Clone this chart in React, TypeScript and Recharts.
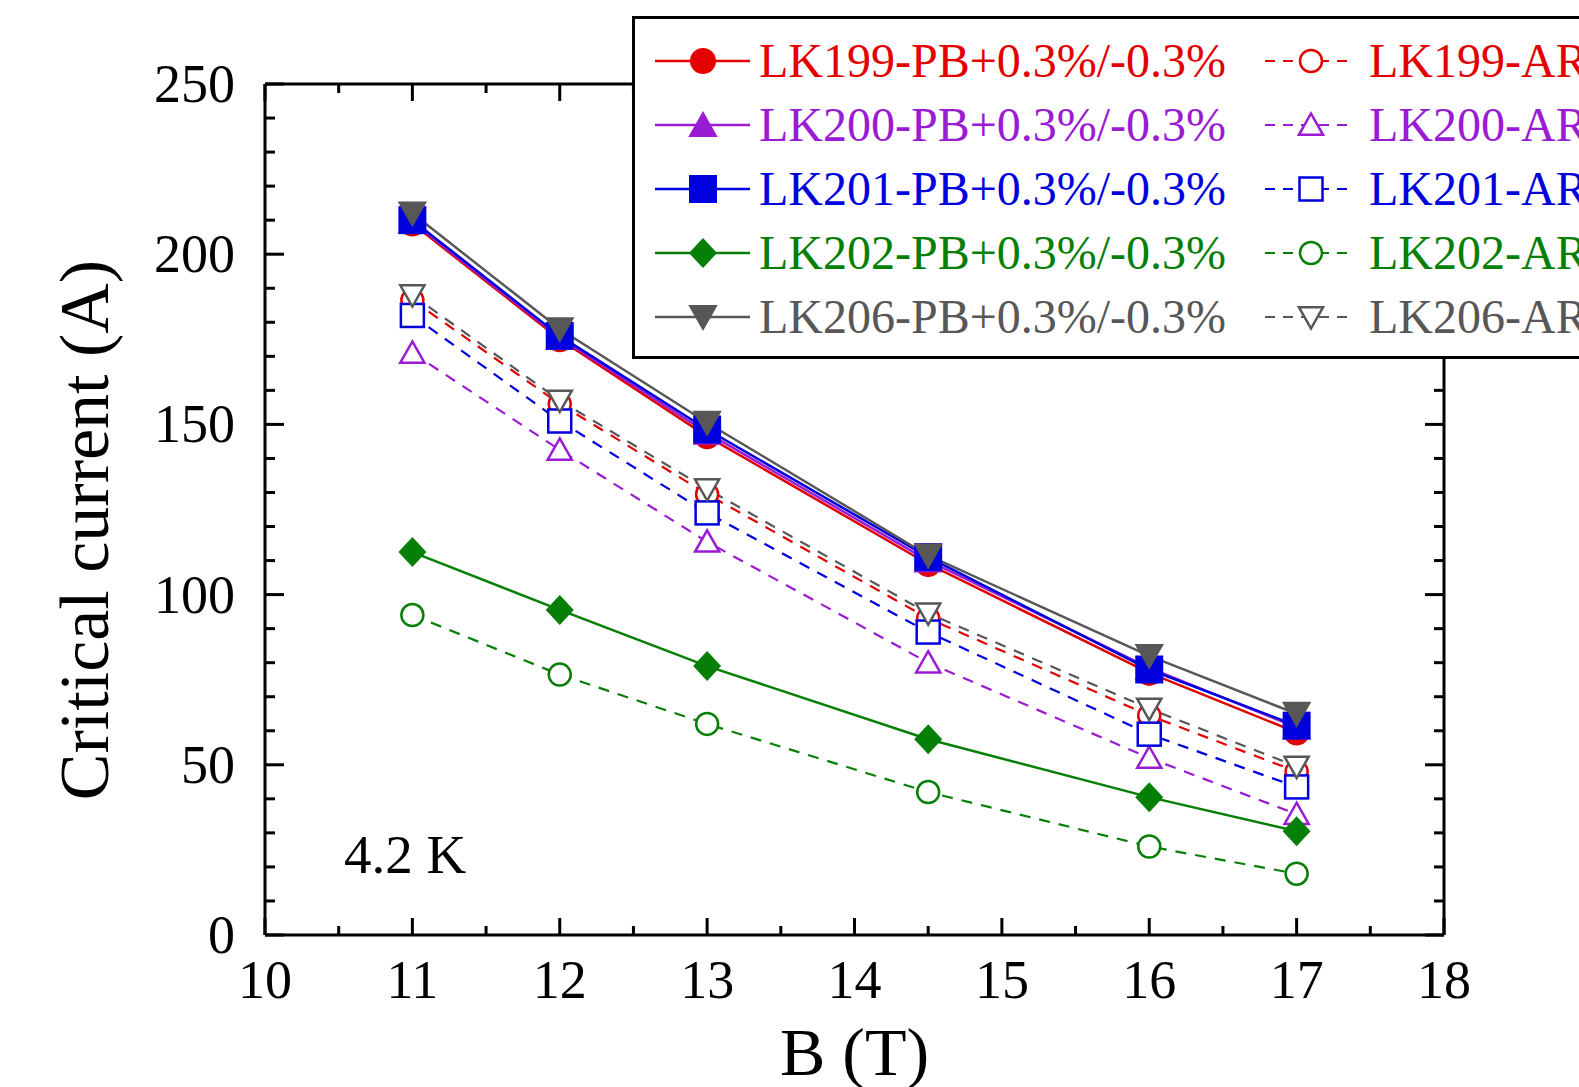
import { LineChart, Line, XAxis, YAxis, ReferenceLine, Legend } from "recharts";

// magnetic field (T)
const fieldB = [11, 12, 13, 14.5, 16, 17];

// critical current (A), pre-bent samples
const lk199PB = [209, 175, 146.5, 109, 77, 59.5];
const lk200PB = [209.5, 175.5, 147.5, 110, 78.5, 61];
const lk201PB = [210, 176, 148.5, 111, 78, 61.5];
const lk202PB = [112.5, 95.5, 79, 57.5, 40.5, 30.5];
const lk206PB = [212, 178, 150.5, 111.5, 82, 65];

// critical current (A), as-reacted samples
const lk199AR = [186.5, 156, 129.5, 93, 64.5, 48];
const lk200AR = [171, 142.5, 115.5, 80, 52, 35.5];
const lk201AR = [182, 151, 124, 89, 59, 43.5];
const lk202AR = [94, 76.5, 62, 42, 26, 18];
const lk206AR = [188, 157, 131, 94.5, 66.5, 49.5];

const xTicks = [10, 10.5, 11, 11.5, 12, 12.5, 13, 13.5, 14, 14.5, 15, 15.5, 16, 16.5, 17, 17.5, 18];
const yTicks = [0, 10, 20, 30, 40, 50, 60, 70, 80, 90, 100, 110, 120, 130, 140, 150, 160, 170, 180, 190, 200, 210, 220, 230, 240, 250];

const RED = "#e30000";
const PURPLE = "#9a1bd4";
const BLUE = "#0000de";
const GREEN = "#067f06";
const GRAY = "#575757";

type Shape = "circle" | "up" | "square" | "diamond" | "down";
type Series = { key: string; name: string; color: string; shape: Shape; values: number[] };

const pbSeries: Series[] = [
  { key: "lk199PB", name: "LK199-PB+0.3%/-0.3%", color: RED, shape: "circle", values: lk199PB },
  { key: "lk200PB", name: "LK200-PB+0.3%/-0.3%", color: PURPLE, shape: "up", values: lk200PB },
  { key: "lk201PB", name: "LK201-PB+0.3%/-0.3%", color: BLUE, shape: "square", values: lk201PB },
  { key: "lk202PB", name: "LK202-PB+0.3%/-0.3%", color: GREEN, shape: "diamond", values: lk202PB },
  { key: "lk206PB", name: "LK206-PB+0.3%/-0.3%", color: GRAY, shape: "down", values: lk206PB },
];

const arSeries: Series[] = [
  { key: "lk199AR", name: "LK199-AR", color: RED, shape: "circle", values: lk199AR },
  { key: "lk200AR", name: "LK200-AR", color: PURPLE, shape: "up", values: lk200AR },
  { key: "lk201AR", name: "LK201-AR", color: BLUE, shape: "square", values: lk201AR },
  { key: "lk202AR", name: "LK202-AR", color: GREEN, shape: "circle", values: lk202AR },
  { key: "lk206AR", name: "LK206-AR", color: GRAY, shape: "down", values: lk206AR },
];

const data = fieldB.map((b, i) => {
  const row: Record<string, number> = { b };
  [...pbSeries, ...arSeries].forEach((s) => (row[s.key] = s.values[i]));
  return row;
});

const W = 1579;
const H = 1087;
const PLOT_L = 265;
const PLOT_R = 1444;
const PLOT_T = 84;
const PLOT_B = 935;
const YAXIS_W = 100;
const XAXIS_H = 80;
const FONT = "'Liberation Serif', 'Times New Roman', Times, serif";

function Marker({ cx, cy, shape, color, filled }: { cx?: number; cy?: number; shape: Shape; color: string; filled: boolean }) {
  if (cx == null || cy == null) return null;
  const fill = filled ? color : "#fff";
  const sw = filled ? 0 : 2.5;
  const s = filled ? 14 : 11.5;
  if (shape === "circle") return <circle cx={cx} cy={cy} r={filled ? 13 : 11} fill={fill} stroke={color} strokeWidth={sw} />;
  if (shape === "square") return <rect x={cx - s} y={cy - s} width={2 * s} height={2 * s} fill={fill} stroke={color} strokeWidth={sw} />;
  if (shape === "diamond")
    return <polygon points={`${cx},${cy - 15} ${cx + 14},${cy} ${cx},${cy + 15} ${cx - 14},${cy}`} fill={fill} stroke={color} strokeWidth={sw} />;
  if (shape === "up")
    return (
      <polygon
        points={`${cx},${cy - s} ${cx + s * 1.05},${cy + s * 0.85} ${cx - s * 1.05},${cy + s * 0.85}`}
        fill={fill}
        stroke={color}
        strokeWidth={sw}
      />
    );
  return (
    <polygon
      points={`${cx - s * 1.05},${cy - s * 0.85} ${cx + s * 1.05},${cy - s * 0.85} ${cx},${cy + s}`}
      fill={fill}
      stroke={color}
      strokeWidth={sw}
    />
  );
}

const YTick = (props: any) => {
  const { x, y, payload } = props;
  const v = payload.value;
  const major = v % 50 === 0;
  const len = major ? 19 : 10;
  return (
    <g>
      <line x1={PLOT_L} x2={PLOT_L + len} y1={y} y2={y} stroke="#000" strokeWidth={3} />
      <line x1={PLOT_R} x2={PLOT_R - len} y1={y} y2={y} stroke="#000" strokeWidth={3} />
      {major && (
        <text x={x} y={y + 18} textAnchor="end" fontSize={54} fontFamily={FONT} fill="#000">
          {v}
        </text>
      )}
    </g>
  );
};

const XTick = (props: any) => {
  const { x, y, payload } = props;
  const v = payload.value;
  const major = Number.isInteger(v);
  const len = major ? 17 : 9;
  return (
    <g>
      <line x1={x} x2={x} y1={PLOT_B} y2={PLOT_B - len} stroke="#000" strokeWidth={3} />
      <line x1={x} x2={x} y1={PLOT_T} y2={PLOT_T + len} stroke="#000" strokeWidth={3} />
      {major && (
        <text x={x} y={y + 18} textAnchor="middle" fontSize={54} fontFamily={FONT} fill="#000">
          {v}
        </text>
      )}
    </g>
  );
};

const LegendBox = () => {
  const rowY = (i: number) => 45 + 64 * i;
  return (
    <svg width={1000} height={346} style={{ display: "block" }}>
      <rect x={1.5} y={1.5} width={1100} height={340} fill="#fff" stroke="#000" strokeWidth={3} />
      {pbSeries.map((s, i) => (
        <g key={s.key}>
          <line x1={23} x2={118} y1={rowY(i)} y2={rowY(i)} stroke={s.color} strokeWidth={2.5} />
          <Marker cx={71} cy={rowY(i)} shape={s.shape} color={s.color} filled />
          <text x={127} y={rowY(i) + 16} fontSize={48} fontFamily={FONT} fill={s.color}>
            {s.name}
          </text>
        </g>
      ))}
      {arSeries.map((s, i) => (
        <g key={s.key}>
          <line x1={633} x2={723} y1={rowY(i)} y2={rowY(i)} stroke={s.color} strokeWidth={2} strokeDasharray="10 8" />
          <Marker cx={679} cy={rowY(i)} shape={s.shape} color={s.color} filled={false} />
          <text x={737} y={rowY(i) + 16} fontSize={48} fontFamily={FONT} fill={s.color}>
            {s.name}
          </text>
        </g>
      ))}
    </svg>
  );
};

export default function App() {
  return (
    <div style={{ position: "absolute", left: 0, top: 0, width: W, height: H, overflow: "hidden", background: "#fff" }}>
      <LineChart
        width={W}
        height={H}
        data={data}
        margin={{ top: PLOT_T, right: W - PLOT_R, left: PLOT_L - YAXIS_W, bottom: H - PLOT_B - XAXIS_H }}
      >
        <XAxis
          dataKey="b"
          type="number"
          domain={[10, 18]}
          ticks={xTicks}
          interval={0}
          height={XAXIS_H}
          tickSize={0}
          tickMargin={45}
          tickLine={false}
          axisLine={{ stroke: "#000", strokeWidth: 3 }}
          tick={XTick}
          label={{
            content: () => (
              <g>
                <text x={(PLOT_L + PLOT_R) / 2} y={1075} textAnchor="middle" fontSize={68} fontFamily={FONT} fill="#000">
                  B (T)
                </text>
                <text x={344} y={873} fontSize={55} fontFamily={FONT} fill="#000">
                  4.2 K
                </text>
              </g>
            ),
          }}
        />
        <YAxis
          type="number"
          domain={[0, 250]}
          ticks={yTicks}
          interval={0}
          width={YAXIS_W}
          tickSize={0}
          tickMargin={30}
          tickLine={false}
          axisLine={{ stroke: "#000", strokeWidth: 3 }}
          tick={YTick}
          label={{
            content: () => (
              <text
                x={108}
                y={530}
                transform="rotate(-90 108 530)"
                textAnchor="middle"
                fontSize={70}
                fontFamily={FONT}
                fill="#000"
              >
                Critical current (A)
              </text>
            ),
          }}
        />
        <ReferenceLine y={250} stroke="#000" strokeWidth={3} />
        <ReferenceLine x={18} stroke="#000" strokeWidth={3} />
        {arSeries.map((s) => (
          <Line
            key={s.key}
            dataKey={s.key}
            name={s.name}
            type="linear"
            stroke={s.color}
            strokeWidth={2.2}
            strokeDasharray="11 9"
            isAnimationActive={false}
            dot={(p: any) => <Marker key={`${s.key}-${p.index}`} cx={p.cx} cy={p.cy} shape={s.shape} color={s.color} filled={false} />}
            activeDot={false}
          />
        ))}
        {pbSeries.map((s) => (
          <Line
            key={s.key}
            dataKey={s.key}
            name={s.name}
            type="linear"
            stroke={s.color}
            strokeWidth={2.5}
            isAnimationActive={false}
            dot={(p: any) => <Marker key={`${s.key}-${p.index}`} cx={p.cx} cy={p.cy} shape={s.shape} color={s.color} filled />}
            activeDot={false}
          />
        ))}
        <Legend
          layout="vertical"
          align="center"
          verticalAlign="middle"
          content={LegendBox}
          wrapperStyle={{ left: 632, top: 16, width: 1000, height: 346 }}
        />
      </LineChart>
    </div>
  );
}
